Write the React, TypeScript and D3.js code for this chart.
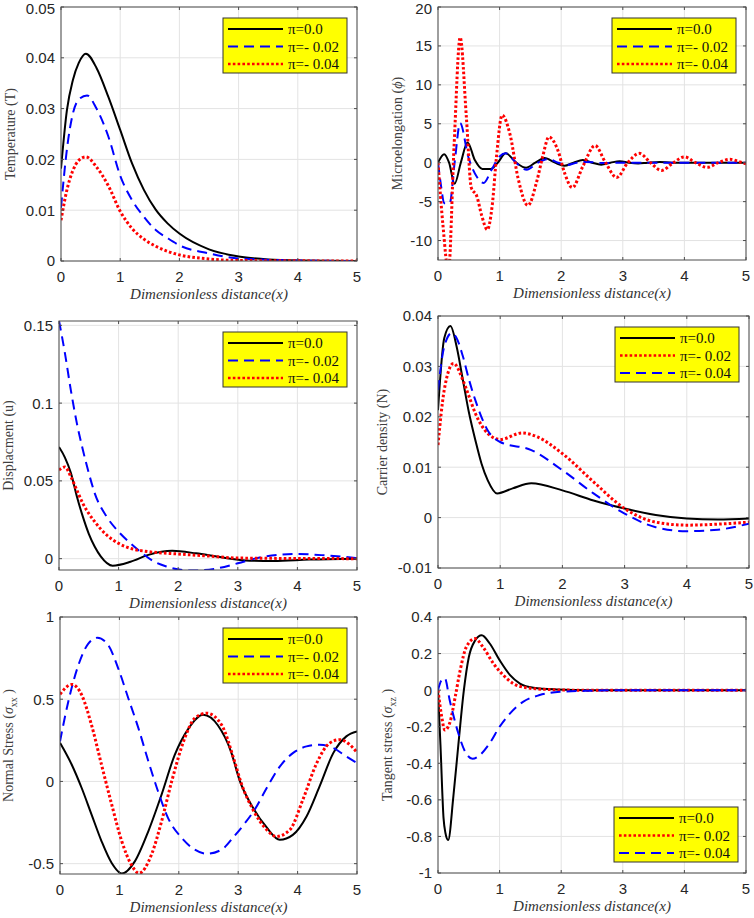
import React from 'react';
import * as d3 from 'd3';

type Pt = [number, number];

// shared ticks / labels
const xTicks = [0, 1, 2, 3, 4, 5];
const legendLabels = ['π=0.0', 'π=- 0.02', 'π=- 0.04'];
const xLabel = 'Dimensionless distance(x)';

// Temperature (T)
const tempSolid: Pt[] = [[0, 0.0182], [0.1, 0.0297], [0.2, 0.0356], [0.3, 0.039], [0.42, 0.0408], [0.6, 0.038], [0.8, 0.0323], [1.0, 0.0258], [1.2, 0.0192], [1.4, 0.014], [1.6, 0.0101], [1.8, 0.0074], [2.0, 0.0054], [2.5, 0.0023], [3, 0.0009], [3.5, 0.0003], [4, 0.0001], [5, 0]];
const tempDash: Pt[] = [[0, 0.0105], [0.1, 0.022], [0.2, 0.029], [0.3, 0.0318], [0.44, 0.0326], [0.6, 0.0300], [0.8, 0.0245], [1.0, 0.0168], [1.2, 0.012], [1.4, 0.0087], [1.6, 0.0061], [1.8, 0.0045], [2.0, 0.0031], [2.5, 0.0015], [3, 0.0005], [4, 0.0001], [5, 0]];
const tempDot: Pt[] = [[0, 0.008], [0.1, 0.014], [0.2, 0.0178], [0.3, 0.0198], [0.42, 0.0205], [0.6, 0.0185], [0.8, 0.0148], [1.0, 0.0098], [1.2, 0.0064], [1.4, 0.0043], [1.6, 0.0029], [1.8, 0.0019], [2, 0.0012], [2.5, 0.0004], [3, 0.0001], [5, 0]];

// Microelongation (phi)
const microSolid: Pt[] = [[0, 0], [0.1, 1.1], [0.18, 0], [0.27, -2.7], [0.37, 0], [0.48, 2.6], [0.6, 0.3], [0.72, -0.8], [0.86, -0.8], [0.97, 0], [1.1, 1.2], [1.27, 0], [1.43, -0.65], [1.58, 0], [1.73, 0.6], [1.9, 0], [2.05, -0.4], [2.2, 0], [2.35, 0.35], [2.5, 0], [2.65, -0.25], [2.8, 0], [2.95, 0.2], [3.1, 0], [3.25, -0.1], [3.4, 0], [3.6, 0.1], [3.8, 0], [5, 0]];
const microDash: Pt[] = [[0, 0], [0.05, -3], [0.1, -5.2], [0.19, -5.2], [0.27, 0], [0.36, 5.1], [0.49, 0.8], [0.63, -1.8], [0.74, -2.6], [0.87, -0.9], [1.0, 0.8], [1.1, 1.2], [1.28, -0.1], [1.44, -0.9], [1.62, 0], [1.79, 0.45], [1.95, 0], [2.1, -0.3], [2.25, 0], [2.4, 0.1], [2.7, -0.05], [3, 0], [5, 0]];
const microDot: Pt[] = [[0, 0], [0.08, -8], [0.17, -14], [0.26, 2], [0.36, 16.1], [0.46, 5.9], [0.54, -3.2], [0.63, -4.3], [0.71, -6.8], [0.8, -8.6], [0.88, -5.5], [0.95, 0.8], [1.04, 6.1], [1.17, 3.6], [1.3, -2], [1.46, -5.5], [1.6, -2.5], [1.7, 0.8], [1.8, 3.3], [1.95, 1.5], [2.05, -1.2], [2.18, -3.2], [2.35, -0.5], [2.55, 2.2], [2.72, 0], [2.9, -1.9], [3.08, 0], [3.27, 1.2], [3.45, 0], [3.63, -1.0], [3.82, 0], [4.0, 0.75], [4.18, 0], [4.37, -0.6], [4.55, 0], [4.74, 0.43], [4.9, 0.1], [5, -0.15]];

// Displacment (u)
const dispSolid: Pt[] = [[0, 0.0718], [0.1, 0.065], [0.2, 0.055], [0.3, 0.04], [0.4, 0.027], [0.5, 0.016], [0.6, 0.0077], [0.7, 0.0015], [0.9, -0.0045], [1.2, -0.002], [1.5, 0.0024], [1.9, 0.005], [2.3, 0.0034], [2.7, 0.001], [3.2, -0.0013], [3.6, -0.0015], [4.2, -0.0006], [5, 0]];
const dispDash: Pt[] = [[0, 0.153], [0.1, 0.132], [0.2, 0.108], [0.3, 0.087], [0.4, 0.07], [0.5, 0.055], [0.6, 0.042], [0.8, 0.027], [1.0, 0.0173], [1.2, 0.0098], [1.4, 0.0034], [1.6, -0.002], [1.8, -0.005], [2.2, -0.0077], [2.6, -0.0066], [3.0, -0.003], [3.4, 0.001], [4.0, 0.003], [4.5, 0.002], [5, 0.0004]];
const dispDot: Pt[] = [[0, 0.057], [0.1, 0.059], [0.2, 0.0526], [0.3, 0.044], [0.4, 0.0355], [0.5, 0.029], [0.6, 0.0237], [0.8, 0.0152], [1.0, 0.0098], [1.2, 0.0066], [1.5, 0.0045], [2.0, 0.003], [2.5, 0.0017], [3, 0.0004], [4, 0.0001], [5, 0]];

// Carrier density (N)
const carSolid: Pt[] = [[0, 0.0213], [0.1, 0.0356], [0.2, 0.038], [0.3, 0.0339], [0.4, 0.0273], [0.5, 0.0207], [0.6, 0.0154], [0.7, 0.0107], [0.8, 0.0074], [0.95, 0.0048], [1.2, 0.0058], [1.5, 0.0068], [2.0, 0.0054], [2.5, 0.0034], [3.0, 0.0018], [3.5, 0.0005], [4.0, -0.0002], [4.5, -0.0004], [5, -0.0002]];
const carDot: Pt[] = [[0, 0.0144], [0.1, 0.0253], [0.25, 0.0306], [0.4, 0.0273], [0.5, 0.024], [0.6, 0.0207], [0.8, 0.0167], [1.0, 0.0155], [1.35, 0.0168], [1.6, 0.016], [2.0, 0.0127], [2.5, 0.0071], [3.0, 0.0018], [3.5, -0.0009], [4.0, -0.0015], [4.5, -0.0013], [5, -0.0009]];
const carDash: Pt[] = [[0, 0.0253], [0.1, 0.0339], [0.22, 0.0366], [0.3, 0.0356], [0.4, 0.032], [0.5, 0.0273], [0.6, 0.0233], [0.8, 0.0173], [1.0, 0.015], [1.5, 0.0134], [2.0, 0.0094], [2.5, 0.0048], [3.0, 0.0008], [3.5, -0.0019], [4.0, -0.0027], [4.5, -0.0024], [5, -0.0012]];

// Normal stress (sigma xx)
const nsSolid: Pt[] = [[0, 0.235], [0.2, 0.1], [0.365, -0.04], [0.53, -0.2], [0.7, -0.364], [0.87, -0.496], [1.04, -0.56], [1.26, -0.486], [1.49, -0.3], [1.71, -0.08], [1.93, 0.16], [2.16, 0.32], [2.41, 0.405], [2.66, 0.34], [2.88, 0.18], [3.03, 0], [3.25, -0.16], [3.48, -0.28], [3.7, -0.355], [3.92, -0.325], [4.15, -0.213], [4.37, -0.03], [4.6, 0.172], [4.82, 0.274], [5, 0.304]];
const nsDash: Pt[] = [[0, 0.243], [0.14, 0.486], [0.31, 0.708], [0.48, 0.84], [0.63, 0.874], [0.81, 0.83], [0.98, 0.688], [1.15, 0.506], [1.32, 0.324], [1.49, 0.12], [1.65, -0.06], [1.82, -0.223], [2.05, -0.344], [2.27, -0.415], [2.47, -0.44], [2.72, -0.415], [2.94, -0.33], [3.1, -0.26], [3.28, -0.17], [3.48, -0.04], [3.7, 0.09], [3.92, 0.172], [4.15, 0.213], [4.37, 0.223], [4.6, 0.203], [4.82, 0.152], [5, 0.112]];
const nsDot: Pt[] = [[0, 0.53], [0.2, 0.59], [0.365, 0.526], [0.53, 0.344], [0.7, 0.1], [0.87, -0.14], [1.04, -0.364], [1.2, -0.506], [1.33, -0.558], [1.54, -0.445], [1.71, -0.243], [1.88, 0], [2.1, 0.263], [2.27, 0.385], [2.47, 0.415], [2.72, 0.344], [2.94, 0.12], [3.05, -0.01], [3.25, -0.172], [3.48, -0.294], [3.64, -0.335], [3.87, -0.294], [4.09, -0.11], [4.32, 0.11], [4.54, 0.233], [4.71, 0.254], [4.88, 0.223], [5, 0.176]];

// Tangent stress (sigma xz)
const tsSolid: Pt[] = [[0, 0], [0.04, -0.3], [0.09, -0.7], [0.12, -0.78], [0.165, -0.82], [0.25, -0.58], [0.33, -0.3], [0.42, 0], [0.5, 0.18], [0.6, 0.27], [0.71, 0.3], [0.84, 0.255], [1.0, 0.164], [1.17, 0.082], [1.33, 0.036], [1.55, 0.013], [1.92, 0.004], [2.5, 0], [5, 0]];
const tsDot: Pt[] = [[0, 0], [0.06, -0.145], [0.11, -0.218], [0.19, -0.18], [0.28, -0.036], [0.36, 0.109], [0.46, 0.236], [0.6, 0.282], [0.73, 0.236], [0.9, 0.145], [1.06, 0.082], [1.22, 0.036], [1.44, 0.013], [1.76, 0.004], [2.2, 0], [5, 0]];
const tsDash: Pt[] = [[0, 0], [0.05, 0.05], [0.11, 0.065], [0.19, -0.055], [0.33, -0.236], [0.44, -0.336], [0.56, -0.375], [0.68, -0.355], [0.84, -0.29], [1.0, -0.2], [1.17, -0.127], [1.38, -0.064], [1.65, -0.027], [1.98, -0.009], [2.5, -0.003], [3, 0], [5, 0]];

type Kind = 'solid' | 'dash' | 'dot';

const lineStyle: Record<Kind, { stroke: string; width: number; dash?: string }> = {
  solid: { stroke: '#000000', width: 2 },
  dash: { stroke: '#0000ff', width: 2, dash: '10,6' },
  dot: { stroke: '#ff0000', width: 3, dash: '2.6,2.2' },
};

interface Box { l: number; r: number; t: number; b: number }

interface PanelProps {
  id: string;
  box: Box;
  yDomain: [number, number];
  yTicks: number[];
  series: { data: Pt[]; kind: Kind }[];
  legendKinds: Kind[];
  legendAt: [number, number];
  yLabel: React.ReactNode;
  yLabelX: number;
}

function Panel({ id, box, yDomain, yTicks, series, legendKinds, legendAt, yLabel, yLabelX }: PanelProps) {
  const x = d3.scaleLinear().domain([0, 5]).range([box.l, box.r]);
  const y = d3.scaleLinear().domain(yDomain).range([box.b, box.t]);
  const line = d3
    .line<Pt>()
    .x((d) => x(d[0]))
    .y((d) => y(d[1]))
    .curve(d3.curveMonotoneX);
  const axisColor = '#4d4d4d';
  const tickFont = '"Liberation Sans", Arial, sans-serif';
  const serif = '"Liberation Serif", "Times New Roman", serif';
  const cy = (box.t + box.b) / 2;
  const [lx, ly] = legendAt;

  return (
    <g>
      <defs>
        <clipPath id={`clip-${id}`}>
          <rect x={box.l} y={box.t} width={box.r - box.l} height={box.b - box.t} />
        </clipPath>
      </defs>
      <rect x={box.l} y={box.t} width={box.r - box.l} height={box.b - box.t} fill="#fff" />
      {/* grid */}
      {xTicks.map((t) => (
        <line key={`gx${t}`} x1={x(t)} x2={x(t)} y1={box.t} y2={box.b} stroke="#e3e3e3" strokeWidth={1} />
      ))}
      {yTicks.map((t) => (
        <line key={`gy${t}`} x1={box.l} x2={box.r} y1={y(t)} y2={y(t)} stroke="#e3e3e3" strokeWidth={1} />
      ))}
      {/* curves */}
      <g clipPath={`url(#clip-${id})`}>
        {series.map((s, i) => {
          const st = lineStyle[s.kind];
          return (
            <path
              key={i}
              d={line(s.data) || ''}
              fill="none"
              stroke={st.stroke}
              strokeWidth={st.width}
              strokeDasharray={st.dash}
            />
          );
        })}
      </g>
      {/* box + inward ticks */}
      <rect x={box.l} y={box.t} width={box.r - box.l} height={box.b - box.t} fill="none" stroke={axisColor} strokeWidth={1} />
      {xTicks.map((t) => (
        <g key={`tx${t}`}>
          <line x1={x(t)} x2={x(t)} y1={box.b} y2={box.b - 3} stroke={axisColor} />
          <line x1={x(t)} x2={x(t)} y1={box.t} y2={box.t + 3} stroke={axisColor} />
          <text x={x(t)} y={box.b + 21} textAnchor="middle" fontFamily={tickFont} fontSize={15} fill="#262626">
            {t}
          </text>
        </g>
      ))}
      {yTicks.map((t) => (
        <g key={`ty${t}`}>
          <line x1={box.l} x2={box.l + 3} y1={y(t)} y2={y(t)} stroke={axisColor} />
          <line x1={box.r} x2={box.r - 3} y1={y(t)} y2={y(t)} stroke={axisColor} />
          <text
            x={box.l - 6}
            y={Math.max(y(t) + 5.4, 14)}
            textAnchor="end"
            fontFamily={tickFont}
            fontSize={15}
            fill="#262626"
          >
            {d3.format('~g')(t).replace('−', '-')}
          </text>
        </g>
      ))}
      {/* axis labels */}
      <text
        x={(box.l + box.r) / 2}
        y={box.b + 38}
        textAnchor="middle"
        fontFamily={serif}
        fontStyle="italic"
        fontSize={15}
        fill="#333"
      >
        {xLabel}
      </text>
      <text
        transform={`translate(${yLabelX},${cy}) rotate(-90)`}
        textAnchor="middle"
        fontFamily={serif}
        fontSize={14}
        fill="#404040"
      >
        {yLabel}
      </text>
      {/* legend */}
      <rect x={lx} y={ly} width={124} height={55} fill="#ffff00" stroke="#333" strokeWidth={1} />
      {legendKinds.map((k, i) => {
        const st = lineStyle[k];
        const ry = ly + 11 + i * 17.5;
        return (
          <g key={`lg${i}`}>
            <line
              x1={lx + 5}
              x2={lx + 60}
              y1={ry}
              y2={ry}
              stroke={st.stroke}
              strokeWidth={k === 'dot' ? 2.6 : 2}
              strokeDasharray={st.dash}
            />
            <text x={lx + 65} y={ry + 5} fontFamily={serif} fontSize={15} fill="#111">
              {legendLabels[i]}
            </text>
          </g>
        );
      })}
    </g>
  );
}

export default function App() {
  const sub = (s: string) => (
    <>
      <tspan dy={4} fontSize={10}>{s}</tspan>
      <tspan dy={-4}> )</tspan>
    </>
  );
  return (
    <div style={{ position: 'absolute', left: 0, top: 0 }}>
      <svg width={754} height={918} style={{ display: 'block', background: '#fff' }}>
        <Panel
          id="t"
          box={{ l: 61, r: 357, t: 7, b: 261 }}
          yDomain={[0, 0.05]}
          yTicks={[0, 0.01, 0.02, 0.03, 0.04, 0.05]}
          series={[{ data: tempSolid, kind: 'solid' }, { data: tempDash, kind: 'dash' }, { data: tempDot, kind: 'dot' }]}
          legendKinds={['solid', 'dash', 'dot']}
          legendAt={[223, 18]}
          yLabel="Temperature (T)"
          yLabelX={15}
        />
        <Panel
          id="m"
          box={{ l: 438, r: 746, t: 7, b: 260 }}
          yDomain={[-12.5, 20]}
          yTicks={[-10, -5, 0, 5, 10, 15, 20]}
          series={[{ data: microSolid, kind: 'solid' }, { data: microDash, kind: 'dash' }, { data: microDot, kind: 'dot' }]}
          legendKinds={['solid', 'dash', 'dot']}
          legendAt={[612, 18]}
          yLabel={<>Microelongation (<tspan fontStyle="italic">ϕ</tspan>)</>}
          yLabelX={402}
        />
        <Panel
          id="d"
          box={{ l: 59, r: 357, t: 321, b: 570 }}
          yDomain={[-0.0073, 0.1528]}
          yTicks={[0, 0.05, 0.1, 0.15]}
          series={[{ data: dispSolid, kind: 'solid' }, { data: dispDash, kind: 'dash' }, { data: dispDot, kind: 'dot' }]}
          legendKinds={['solid', 'dash', 'dot']}
          legendAt={[223, 332]}
          yLabel="Displacment (u)"
          yLabelX={13}
        />
        <Panel
          id="c"
          box={{ l: 438, r: 749, t: 316, b: 568 }}
          yDomain={[-0.01, 0.04]}
          yTicks={[-0.01, 0, 0.01, 0.02, 0.03, 0.04]}
          series={[{ data: carSolid, kind: 'solid' }, { data: carDot, kind: 'dot' }, { data: carDash, kind: 'dash' }]}
          legendKinds={['solid', 'dot', 'dash']}
          legendAt={[615, 327]}
          yLabel="Carrier density (N)"
          yLabelX={387}
        />
        <Panel
          id="n"
          box={{ l: 60, r: 357, t: 617, b: 874 }}
          yDomain={[-0.563, 1]}
          yTicks={[-0.5, 0, 0.5, 1]}
          series={[{ data: nsSolid, kind: 'solid' }, { data: nsDash, kind: 'dash' }, { data: nsDot, kind: 'dot' }]}
          legendKinds={['solid', 'dash', 'dot']}
          legendAt={[223, 628]}
          yLabel={<>Normal Stress (<tspan fontStyle="italic">σ</tspan>{sub('xx')}</>}
          yLabelX={13}
        />
        <Panel
          id="s"
          box={{ l: 438, r: 746, t: 617, b: 873 }}
          yDomain={[-1, 0.4]}
          yTicks={[-1, -0.8, -0.6, -0.4, -0.2, 0, 0.2, 0.4]}
          series={[{ data: tsSolid, kind: 'solid' }, { data: tsDot, kind: 'dot' }, { data: tsDash, kind: 'dash' }]}
          legendKinds={['solid', 'dot', 'dash']}
          legendAt={[614, 807]}
          yLabel={<>Tangent stress (<tspan fontStyle="italic">σ</tspan>{sub('xz')}</>}
          yLabelX={392}
        />
      </svg>
    </div>
  );
}
